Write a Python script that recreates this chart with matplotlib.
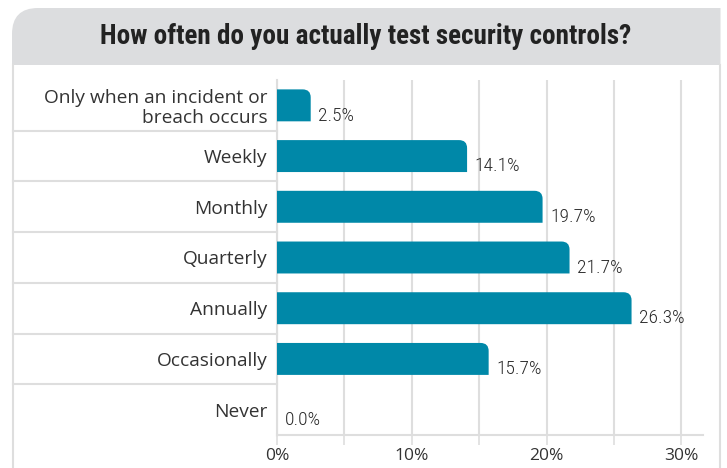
import matplotlib
matplotlib.use("Agg")
import matplotlib.pyplot as plt
from matplotlib import font_manager
from matplotlib.patches import PathPatch
from matplotlib.path import Path
from matplotlib.lines import Line2D
import matplotlib.transforms as mtransforms

# ---- data ----
categories = ["Only when an incident or\nbreach occurs", "Weekly", "Monthly",
              "Quarterly", "Annually", "Occasionally", "Never"]
values = [2.5, 14.1, 19.7, 21.7, 26.3, 15.7, 0.0]
tick_values = [0, 5, 10, 15, 20, 25, 30]
tick_labels = ["0%", "", "10%", "", "20%", "", "30%"]
title = "How often do you actually test security controls?"

W, H = 727, 468
BAR = "#0088a8"
TXT = "#333333"
GRID = "#dedede"

names = {f.name for f in font_manager.fontManager.ttflist}
def pick(cands, default):
    for c in cands:
        if c in names:
            return c
    return default
cond_family = pick(["Roboto Condensed", "Open Sans Condensed", "Liberation Sans Narrow",
                    "DejaVu Sans Condensed"], "DejaVu Sans")
cond_stretch = "condensed"
body_family = pick(["Open Sans", "Noto Sans"], "DejaVu Sans")

fig = plt.figure(figsize=(W / 100, H / 100), dpi=100)

def fx(x):
    return x / W
def fy(y):
    return 1 - y / H

# title box with rounded top-left corner
R = 26
x0, x1, y0, y1 = 12, 720.5, 8, 65
verts = [(fx(x0), fy(y1)), (fx(x0), fy(y0 + R)), (fx(x0), fy(y0)), (fx(x0 + R), fy(y0)),
         (fx(x1), fy(y0)), (fx(x1), fy(y1)), (fx(x0), fy(y1))]
codes = [Path.MOVETO, Path.LINETO, Path.CURVE3, Path.CURVE3, Path.LINETO, Path.LINETO,
         Path.CLOSEPOLY]
fig.patches.append(PathPatch(Path(verts, codes), transform=fig.transFigure,
                             facecolor="#dcdddf", edgecolor="none", zorder=0))
fig.text(fx(366), fy(37), title, ha="center", va="center", fontsize=19.5,
         fontweight="bold", color="#222222", family=cond_family, fontstretch=cond_stretch)

# frame lines
for xx in (12.5, 720):
    fig.add_artist(Line2D([fx(xx), fx(xx)], [fy(65), 0], transform=fig.transFigure,
                          color=GRID, lw=1.5))

ax = fig.add_axes([fx(277), fy(435), (703 - 277) / W, (435 - 80) / H])
pos = list(range(len(categories)))
bars = ax.barh(pos, values, height=0.63, color=BAR)
ax.set_xlim(0, 31.6)
ax.set_ylim(len(categories) - 0.5, -0.5)

# bars with a rounded top-right corner only
rx = 0.6
ry = 8 / 50.7
for b in bars:
    w = b.get_width()
    b.set_visible(False)
    if w <= 0:
        continue
    bx0 = b.get_x()
    bx1 = bx0 + w
    yt = b.get_y()                 # displayed top (y axis inverted)
    yb = yt + b.get_height()
    rxx = min(rx, w / 2)
    verts = [(bx0, yt), (bx1 - rxx, yt), (bx1, yt), (bx1, yt + ry), (bx1, yb), (bx0, yb),
             (bx0, yt)]
    codes = [Path.MOVETO, Path.LINETO, Path.CURVE3, Path.CURVE3, Path.LINETO,
             Path.LINETO, Path.CLOSEPOLY]
    ax.add_patch(PathPatch(Path(verts, codes), facecolor=BAR, edgecolor="none", zorder=3))

for i, v in enumerate(values):
    ax.text(v + 0.55, i + 0.2, f"{v:.1f}%", ha="left", va="center", fontsize=14,
            color="#2a2a2a", family=cond_family, fontstretch=cond_stretch,
            fontweight="light", zorder=4)

ax.set_yticks(pos)
ax.set_yticklabels(categories, fontsize=13.8, color=TXT, family=body_family,
                   linespacing=1.1)
ax.tick_params(axis="y", length=0, pad=7)
ax.set_xticks(tick_values)
ax.set_xticklabels(tick_labels, fontsize=12.5, color=TXT, family=body_family)
ax.tick_params(axis="x", length=7, width=1.2, color=GRID, pad=2)
ax.grid(axis="x", color=GRID, lw=1.5, zorder=0)
ax.set_axisbelow(True)
for s in ("top", "right"):
    ax.spines[s].set_visible(False)
for s in ("left", "bottom"):
    ax.spines[s].set_color(GRID)
    ax.spines[s].set_linewidth(1.5)

# row separators in the label area
trans = mtransforms.blended_transform_factory(fig.transFigure, ax.transData)
for k in range(len(categories) - 1):
    fig.add_artist(Line2D([fx(12.5), fx(277)], [k + 0.5, k + 0.5], transform=trans,
                          color=GRID, lw=1.5))

fig.savefig("out.png", dpi=100)
